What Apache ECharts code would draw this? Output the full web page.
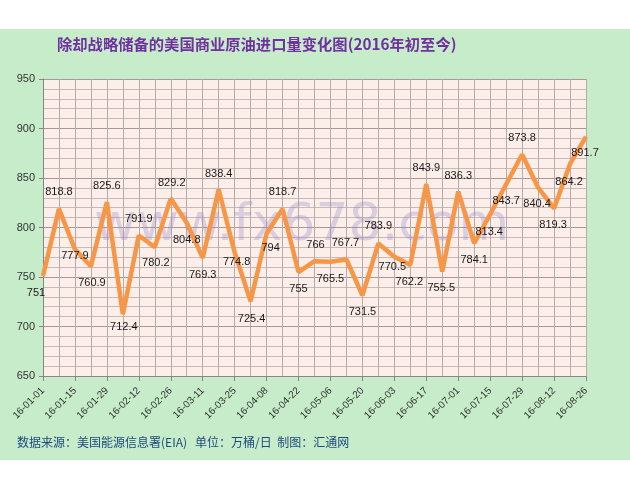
<!DOCTYPE html>
<html>
<head>
<meta charset="utf-8">
<script src="https://cdn.jsdelivr.net/npm/echarts@6/dist/echarts.min.js"></script>
<style>html,body{margin:0;padding:0;background:#fff}#c{width:630px;height:490px}</style>
</head>
<body>
<div id="c"></div>
<script>
var titleText = '除却战略储备的美国商业原油进口量变化图(2016年初至今)';
var footerText = '数据来源：美国能源信息署(EIA)   单位：万桶/日  制图：汇通网';
var watermarkText = 'www.fx678.com';

var categories = ['16-01-01','16-01-08','16-01-15','16-01-22','16-01-29','16-02-05','16-02-12','16-02-19','16-02-26','16-03-04','16-03-11','16-03-18','16-03-25','16-04-01','16-04-08','16-04-15','16-04-22','16-04-29','16-05-06','16-05-13','16-05-20','16-05-27','16-06-03','16-06-10','16-06-17','16-06-24','16-07-01','16-07-08','16-07-15','16-07-22','16-07-29','16-08-05','16-08-12','16-08-19','16-08-26'];

var imports = [751,818.8,777.9,760.9,825.6,712.4,791.9,780.2,829.2,804.8,769.3,838.4,774.8,725.4,794,818.7,755,766,765.5,767.7,731.5,783.9,770.5,762.2,843.9,755.5,836.3,784.1,813.4,843.7,873.8,840.4,819.3,864.2,891.7];

var yTicks = [650,700,750,800,850,900,950];

// label placement offsets (style only)
var labelOffsets = [[-7,17],[0,-17],[0,7],[1,17],[0,-16],[1,13],[0,-17],[1,16],[1,-16],[0,17],[0,17],[0,-16],[2,10],[1,18],[4,15],[0,-17],[0,17],[1,-16],[0,17],[-1,-17],[0,17],[0,-17],[-2,10],[-1,17],[0,-16],[-1,16],[0,-16],[0,17],[-1,18],[0,17],[0,-16],[-1,16],[-1,17],[-1,18],[-1,16]];

var chart = echarts.init(document.getElementById('c'), null, {renderer: 'canvas'});
var seriesData = imports.map(function (v, i) {
  return {value: v, label: {offset: labelOffsets[i]}};
});

chart.setOption({
  backgroundColor: '#ffffff',
  animation: false,
  graphic: [
    {type: 'rect', z: -10, silent: true, shape: {x: 0, y: 29, width: 630, height: 431}, style: {fill: '#c7ecca'}},
    {type: 'text', z: 1, silent: true, left: 57, top: 37, style: {text: titleText, font: 'bold 15.3px "Noto Sans CJK SC"', fill: '#7030a0'}},
    {type: 'text', z: 1, silent: true, left: 17, top: 436, style: {text: footerText, font: '12px "Noto Sans CJK SC"', fill: '#1f497d'}},
    {type: 'text', z: 1, silent: true, left: 94, top: 200, style: {text: watermarkText, font: '52px "DejaVu Sans"', fill: 'rgba(145,135,200,0.32)'}}
  ],
  grid: {left: 43, right: 44, top: 79, bottom: 114, show: true, backgroundColor: '#fcefe9', borderWidth: 0},
  xAxis: {
    type: 'category',
    data: categories,
    boundaryGap: false,
    axisLine: {lineStyle: {color: '#868686', width: 1}},
    axisTick: {show: true, interval: 1, length: 5, lineStyle: {color: '#868686'}},
    axisLabel: {interval: 1, rotate: 45, fontSize: 10, color: '#333', fontFamily: 'Liberation Sans', margin: 13},
    splitLine: {show: true, interval: 0, lineStyle: {color: '#b9a9a9', width: 1}}
  },
  yAxis: {
    type: 'value',
    min: yTicks[0],
    max: yTicks[yTicks.length - 1],
    interval: 50,
    axisLine: {show: true, lineStyle: {color: '#868686'}},
    axisTick: {show: true, length: 4, lineStyle: {color: '#868686'}},
    axisLabel: {fontSize: 11, color: '#333', fontFamily: 'Liberation Sans', margin: 8},
    splitLine: {show: true, lineStyle: {color: '#a89898', width: 1}},
    minorTick: {show: false, splitNumber: 5},
    minorSplitLine: {show: true, lineStyle: {color: '#c9b9b9', width: 1}}
  },
  series: [{
    type: 'line',
    data: seriesData,
    z: 3,
    symbol: 'circle',
    symbolSize: 0.1,
    showSymbol: true,
    itemStyle: {color: 'rgba(0,0,0,0)'},
    lineStyle: {color: '#f79646', width: 4.5},
    label: {show: true, position: 'inside', color: '#1a1a1a', fontSize: 11, fontFamily: 'Liberation Sans'}
  }]
});
</script>
</body>
</html>
